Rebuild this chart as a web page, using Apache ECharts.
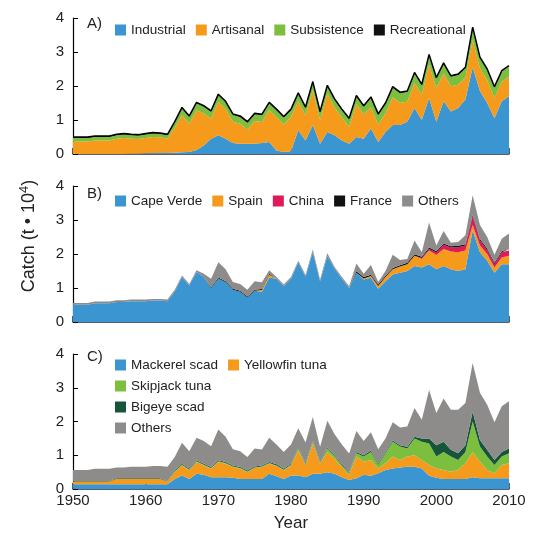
<!DOCTYPE html>
<html>
<head>
<meta charset="utf-8">
<script src="https://cdn.jsdelivr.net/npm/echarts@6/dist/echarts.min.js"></script>
<style>
  html, body { margin: 0; padding: 0; background: #fff; }
  #chart { width: 548px; height: 536px; }
</style>
</head>
<body>
<div id="chart"></div>
<script>
// years 1950..2010
var years = [];
for (var y = 1950; y <= 2010; y++) years.push(String(y));

var yTicks = ["0", "1", "2", "3", "4"];

// A) sector (t * 10^4)
var industrial = [0, 0, 0, 0, 0, 0, 0, 0,
  0.01, 0.01, 0.02, 0.02, 0.03, 0.03, 0.04, 0.05, 0.06, 0.12,
  0.25, 0.45, 0.55, 0.45, 0.32, 0.30, 0.30, 0.30, 0.32, 0.35,
  0.10, 0.06, 0.08, 0.70, 0.40, 0.85, 0.30, 0.65, 0.55, 0.40,
  0.30, 0.50, 0.45, 0.75, 0.35, 0.65, 0.85, 0.85, 0.95, 1.35,
  1.00, 1.65, 0.95, 1.55, 1.25, 1.35, 1.60, 2.55, 1.85, 1.50,
  1.05, 1.55, 1.70];
var artisanal = [0.37, 0.37, 0.37, 0.40, 0.40, 0.40, 0.45, 0.47,
  0.44, 0.43, 0.45, 0.48, 0.46, 0.42, 0.73, 1.09, 0.83, 1.17,
  0.94, 0.59, 0.98, 0.87, 0.63, 0.59, 0.42, 0.67, 0.62, 0.94,
  0.99, 0.81, 1.01, 0.85, 0.73, 1.03, 0.70, 1.12, 0.82, 0.67,
  0.50, 0.97, 0.72, 0.62, 0.52, 0.54, 0.82, 0.66, 0.59, 0.74,
  0.74, 0.97, 0.99, 0.82, 0.74, 0.69, 0.64, 0.80, 0.67, 0.67,
  0.60, 0.57, 0.57];
var subsistence = [0.10, 0.10, 0.10, 0.10, 0.10, 0.10, 0.10, 0.10,
  0.10, 0.10, 0.10, 0.10, 0.10, 0.10, 0.15, 0.20, 0.20, 0.20,
  0.20, 0.20, 0.20, 0.20, 0.20, 0.20, 0.20, 0.20, 0.20, 0.20,
  0.20, 0.20, 0.20, 0.22, 0.22, 0.22, 0.22, 0.22, 0.22, 0.22,
  0.22, 0.22, 0.22, 0.28, 0.28, 0.28, 0.28, 0.28, 0.28, 0.28,
  0.28, 0.28, 0.28, 0.28, 0.28, 0.28, 0.28, 0.35, 0.30, 0.30,
  0.30, 0.30, 0.30];
var recreational = [0.03, 0.03, 0.03, 0.03, 0.03, 0.03, 0.03, 0.03,
  0.03, 0.03, 0.03, 0.03, 0.03, 0.03, 0.03, 0.03, 0.03, 0.03,
  0.03, 0.03, 0.03, 0.03, 0.03, 0.03, 0.03, 0.03, 0.03, 0.03,
  0.03, 0.03, 0.03, 0.03, 0.03, 0.03, 0.03, 0.03, 0.03, 0.03,
  0.03, 0.03, 0.03, 0.03, 0.03, 0.03, 0.03, 0.03, 0.03, 0.03,
  0.03, 0.03, 0.03, 0.03, 0.03, 0.03, 0.03, 0.03, 0.03, 0.03,
  0.03, 0.03, 0.03];

// B) country
var capeVerde = [0.51, 0.51, 0.51, 0.55, 0.55, 0.55, 0.59, 0.59,
  0.61, 0.61, 0.61, 0.63, 0.63, 0.61, 0.90, 1.32, 1.07, 1.47,
  1.32, 0.99, 1.28, 1.17, 0.95, 0.89, 0.72, 0.92, 0.89, 1.31,
  1.27, 1.05, 1.27, 1.75, 1.33, 2.05, 1.20, 1.94, 1.57, 1.27,
  1.00, 1.45, 1.25, 1.30, 0.98, 1.20, 1.40, 1.45, 1.50, 1.65,
  1.60, 1.70, 1.55, 1.65, 1.55, 1.50, 1.55, 2.70, 2.05, 1.80,
  1.45, 1.70, 1.70];
var spain = [0, 0, 0, 0, 0, 0, 0, 0,
  0, 0, 0, 0, 0, 0, 0, 0, 0, 0,
  0, 0, 0, 0, 0, 0, 0, 0, 0.05, 0.08,
  0, 0, 0, 0, 0, 0, 0, 0, 0, 0,
  0, 0, 0.03, 0.05, 0.08, 0.12, 0.15, 0.18, 0.20, 0.30,
  0.25, 0.40, 0.42, 0.50, 0.52, 0.55, 0.55, 0.15, 0.20, 0.20,
  0.15, 0.20, 0.25];
var china = [0, 0, 0, 0, 0, 0, 0, 0,
  0, 0, 0, 0, 0, 0, 0, 0, 0, 0,
  0, 0, 0, 0, 0, 0, 0, 0, 0, 0,
  0, 0, 0, 0, 0, 0, 0, 0, 0, 0,
  0, 0, 0, 0, 0, 0, 0, 0, 0, 0,
  0.03, 0.05, 0.08, 0.12, 0.12, 0.15, 0.15, 0.25, 0.15, 0.12,
  0.10, 0.15, 0.15];
var france = [0, 0, 0, 0, 0, 0, 0, 0,
  0, 0, 0, 0, 0, 0, 0, 0, 0, 0,
  0, 0.03, 0.03, 0.03, 0.03, 0.03, 0.03, 0.03, 0.03, 0.03,
  0, 0, 0, 0, 0, 0, 0, 0, 0, 0,
  0, 0.04, 0.04, 0.04, 0.04, 0.04, 0.04, 0.04, 0.04, 0.04,
  0.04, 0.04, 0.04, 0.04, 0.04, 0.04, 0.04, 0.05, 0.04, 0.04,
  0.04, 0.04, 0.04];
var othersB = [0.05, 0.05, 0.05, 0.05, 0.05, 0.05, 0.05, 0.05,
  0.05, 0.05, 0.05, 0.05, 0.05, 0.05, 0.05, 0.05, 0.05, 0.05,
  0.10, 0.25, 0.45, 0.35, 0.20, 0.20, 0.20, 0.25, 0.20, 0.10,
  0.05, 0.05, 0.05, 0.05, 0.05, 0.08, 0.05, 0.08, 0.05, 0.05,
  0.05, 0.23, 0.10, 0.29, 0.08, 0.14, 0.39, 0.15, 0.11, 0.41,
  0.13, 0.74, 0.16, 0.37, 0.10, 0.11, 0.26, 0.58, 0.41, 0.34,
  0.24, 0.36, 0.46];

// C) species
var mackerelScad = [0.14, 0.14, 0.14, 0.14, 0.14, 0.14, 0.14, 0.14,
  0.14, 0.14, 0.14, 0.14, 0.14, 0.14, 0.30, 0.40, 0.30, 0.45,
  0.42, 0.35, 0.35, 0.35, 0.33, 0.30, 0.30, 0.30, 0.30, 0.45,
  0.38, 0.30, 0.40, 0.40, 0.35, 0.45, 0.45, 0.50, 0.45, 0.35,
  0.27, 0.32, 0.42, 0.39, 0.47, 0.56, 0.61, 0.64, 0.66, 0.66,
  0.61, 0.39, 0.33, 0.30, 0.30, 0.30, 0.30, 0.35, 0.32, 0.32,
  0.32, 0.32, 0.32];
var yellowfin = [0.08, 0.08, 0.08, 0.08, 0.08, 0.08, 0.16, 0.16,
  0.16, 0.16, 0.16, 0.16, 0.16, 0.08, 0.20, 0.30, 0.25, 0.35,
  0.28, 0.25, 0.45, 0.40, 0.32, 0.30, 0.20, 0.32, 0.35, 0.30,
  0.30, 0.25, 0.30, 0.75, 0.35, 0.90, 0.30, 0.60, 0.45, 0.30,
  0.15, 0.64, 0.39, 0.47, 0.14, 0.20, 0.35, 0.22, 0.30, 0.34,
  0.25, 0.32, 0.28, 0.26, 0.21, 0.26, 0.46, 0.75, 0.49, 0.24,
  0.15, 0.39, 0.44];
var skipjack = [0, 0, 0, 0, 0, 0, 0, 0,
  0, 0, 0, 0, 0, 0, 0.02, 0.02, 0.02, 0.02,
  0.02, 0.02, 0.02, 0.02, 0.02, 0.02, 0.02, 0.02, 0.02, 0.02,
  0.02, 0.02, 0.02, 0.05, 0.03, 0.05, 0.03, 0.10, 0.08, 0.05,
  0.05, 0.10, 0.15, 0.24, 0.10, 0.30, 0.44, 0.40, 0.24, 0.50,
  0.54, 0.64, 0.35, 0.54, 0.45, 0.30, 0.34, 0.90, 0.45, 0.40,
  0.24, 0.25, 0.30];
var bigeyeScad = [0.02, 0.02, 0.02, 0.02, 0.02, 0.02, 0.02, 0.02,
  0.02, 0.02, 0.02, 0.02, 0.02, 0.02, 0.03, 0.03, 0.03, 0.03,
  0.03, 0.03, 0.03, 0.03, 0.03, 0.03, 0.03, 0.03, 0.03, 0.03,
  0.03, 0.03, 0.03, 0.03, 0.03, 0.03, 0.03, 0.03, 0.03, 0.03,
  0.03, 0.04, 0.04, 0.04, 0.04, 0.04, 0.04, 0.04, 0.05, 0.05,
  0.10, 0.15, 0.34, 0.30, 0.20, 0.20, 0.20, 0.30, 0.19, 0.20,
  0.15, 0.14, 0.14];
var othersC = [0.32, 0.32, 0.32, 0.36, 0.36, 0.36, 0.32, 0.32,
  0.34, 0.34, 0.34, 0.36, 0.36, 0.42, 0.40, 0.62, 0.52, 0.67,
  0.67, 0.62, 0.91, 0.75, 0.48, 0.47, 0.40, 0.53, 0.47, 0.72,
  0.59, 0.50, 0.57, 0.57, 0.62, 0.70, 0.44, 0.79, 0.61, 0.59,
  0.55, 0.62, 0.42, 0.54, 0.43, 0.40, 0.54, 0.52, 0.60, 0.85,
  0.55, 1.43, 0.95, 1.28, 1.19, 1.29, 1.25, 1.43, 1.40, 1.34,
  1.12, 1.35, 1.40];

var BLUE = "#3b95d1", ORANGE = "#f59a1b", GREEN = "#7cbf3f", BLACK = "#111111",
    RED = "#e01a5a", GREY = "#8e8b8b", DKGREEN = "#17553a";
var FONT = "Liberation Sans, Arial, sans-serif";

var myChart = echarts.init(document.getElementById("chart"));

function area(name, data, color, idx, stack, line) {
  return {
    name: name,
    type: "line",
    xAxisIndex: idx,
    yAxisIndex: idx,
    stack: stack,
    data: data,
    symbol: "none",
    silent: true,
    itemStyle: { color: color },
    lineStyle: line ? { color: "#000", width: 1.5 } : { width: 0, color: color },
    areaStyle: { color: color, opacity: 1 },
  };
}

function xAx(i) {
  return {
    type: "category",
    gridIndex: i,
    data: years,
    boundaryGap: false,
    axisLine: { lineStyle: { color: "#1b2a48", width: 1.5 } },
    axisTick: { inside: true, interval: 9, length: 6, lineStyle: { color: "#1b2a48", width: 1.5 } },
    axisLabel: { show: i === 2, interval: 9, fontSize: 15, color: "#222", fontFamily: FONT, margin: 4 },
    name: i === 2 ? "Year" : "",
    nameLocation: "middle",
    nameGap: 26,
    nameTextStyle: { fontSize: 17, color: "#222", fontFamily: FONT },
    splitLine: { show: false },
  };
}

function yAx(i) {
  return {
    type: "value",
    gridIndex: i,
    min: 0,
    max: 4,
    interval: 1,
    axisLine: { show: true, lineStyle: { color: "#000", width: 1.2 } },
    axisTick: { show: true, inside: true, length: 5, lineStyle: { color: "#000" } },
    axisLabel: {
      fontSize: 15, color: "#222", fontFamily: FONT, margin: 9,
      formatter: function (v) { return yTicks[v]; },
    },
    splitLine: { show: false },
  };
}

var legendText = { fontSize: 13.5, color: "#222", fontFamily: FONT };
function leg(names, left, top, orient, gap) {
  return {
    data: names, left: left, top: top, orient: orient || "horizontal",
    padding: 0, itemGap: gap || 10, itemWidth: 11, itemHeight: 11,
    icon: "rect", textStyle: legendText, selectedMode: false,
  };
}

function panelLabel(t, y) {
  return { type: "text", x: 87, y: y,
    style: { text: t, fontSize: 15, fontFamily: FONT, fill: "#222", verticalAlign: "middle" } };
}

var option = {
  animation: false,
  grid: [
    { left: 73, right: 39, top: 18, height: 136 },
    { left: 73, right: 39, top: 186, height: 136 },
    { left: 73, right: 39, top: 354, height: 135 },
  ],
  xAxis: [xAx(0), xAx(1), xAx(2)],
  yAxis: [yAx(0), yAx(1), yAx(2)],
  legend: [
    leg(["Industrial", "Artisanal", "Subsistence", "Recreational"], 115, 23),
    leg(["Cape Verde", "Spain", "China", "France", "Others"], 115, 194),
    leg(["Mackerel scad", "Yellowfin tuna"], 115, 358),
    leg(["Skipjack tuna", "Bigeye scad", "Others"], 115, 379, "vertical", 7),
  ],
  graphic: [
    panelLabel("A)", 24),
    panelLabel("B)", 194),
    panelLabel("C)", 357),
    {
      type: "text", x: 29, y: 236, rotation: Math.PI / 2,
      style: {
        text: "{a|Catch (t • 10}{s|4}{a|)}",
        align: "center", verticalAlign: "middle", fill: "#222",
        rich: {
          a: { fontSize: 18, fontFamily: FONT, fill: "#222" },
          s: { fontSize: 13, fontFamily: FONT, fill: "#222", padding: [0, 0, 10, 0] },
        },
      },
    },
  ],
  series: [
    area("Industrial", industrial, BLUE, 0, "A"),
    area("Artisanal", artisanal, ORANGE, 0, "A"),
    area("Subsistence", subsistence, GREEN, 0, "A"),
    area("Recreational", recreational, BLACK, 0, "A", true),

    area("Cape Verde", capeVerde, BLUE, 1, "B"),
    area("Spain", spain, ORANGE, 1, "B"),
    area("China", china, RED, 1, "B"),
    area("France", france, BLACK, 1, "B"),
    area("Others", othersB, GREY, 1, "B"),

    area("Mackerel scad", mackerelScad, BLUE, 2, "C"),
    area("Yellowfin tuna", yellowfin, ORANGE, 2, "C"),
    area("Skipjack tuna", skipjack, GREEN, 2, "C"),
    area("Bigeye scad", bigeyeScad, DKGREEN, 2, "C"),
    area("Others", othersC, GREY, 2, "C"),
  ],
};
myChart.setOption(option);
</script>
</body>
</html>
